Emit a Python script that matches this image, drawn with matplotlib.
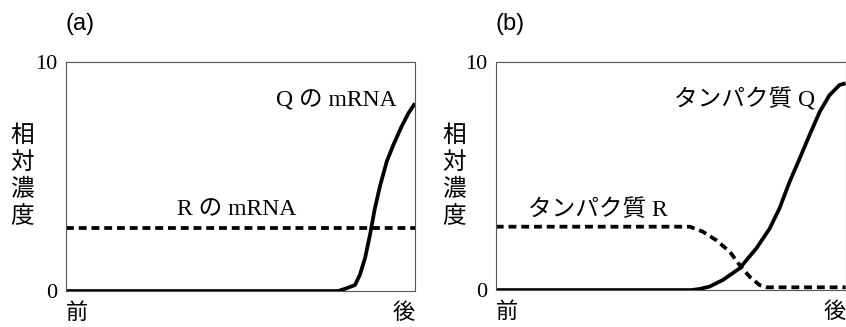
import matplotlib
matplotlib.use('Agg')
import matplotlib.pyplot as plt

# fuentes: serif para letras latinas, CJK para japonés
serif = ['Liberation Serif', 'Noto Sans CJK JP']
sans = ['Liberation Sans', 'DejaVu Sans']
gothic = ['Noto Sans CJK JP', 'DejaVu Sans']

# (a) ARNm
a_q_x = [0.0, 0.78, 0.80, 0.828, 0.842, 0.857, 0.871, 0.885, 0.90, 0.919, 0.938, 0.962, 0.981, 1.0]
a_q_y = [0.0, 0.0, 0.1, 0.26, 0.7, 1.44, 2.45, 3.6, 4.6, 5.65, 6.38, 7.2, 7.76, 8.2]
a_r_x = [0.0, 1.0]
a_r_y = [2.75, 2.75]

# (b) proteína
b_q_x = [0.0, 0.56, 0.583, 0.611, 0.649, 0.697, 0.745, 0.783, 0.811, 0.84, 0.869,
         0.897, 0.926, 0.954, 0.983, 1.0]
b_q_y = [0.0, 0.0, 0.05, 0.15, 0.44, 0.95, 1.83, 2.7, 3.58, 4.75, 5.78,
         6.8, 7.82, 8.55, 9.0, 9.07]
b_r_x = [0.0, 0.555, 0.592, 0.63, 0.669, 0.697, 0.726, 0.754, 0.775, 0.80, 1.0]
b_r_y = [2.78, 2.78, 2.56, 2.19, 1.68, 1.1, 0.58, 0.22, 0.12, 0.12, 0.12]

yticks = [0, 10]
ylabel = '相\n対\n濃\n度'
xlabels = ['前', '後']

fig = plt.figure(figsize=(8.46, 3.27), dpi=100)
ax1 = fig.add_axes([0.078, 0.110, 0.4125, 0.700])
ax2 = fig.add_axes([0.586, 0.113, 0.4135, 0.697])

paneles = [
    (ax1, '(a)', a_q_x, a_q_y, a_r_x, a_r_y,
     'Q の mRNA', (0.774, 8.3), 'R の mRNA', (0.49, 3.55), 0.026),
    (ax2, '(b)', b_q_x, b_q_y, b_r_x, b_r_y,
     'タンパク質 Q', (0.712, 8.35), 'タンパク質 R', (0.291, 3.5), 0.537),
]

for ax, tag, qx, qy, rx, ry, qlab, qpos, rlab, rpos, ylx in paneles:
    ax.plot(qx, qy, color='black', lw=2.7, solid_capstyle='butt', solid_joinstyle='round')
    ax.plot(rx, ry, color='black', lw=2.7, dashes=(2.1, 1.3))
    ax.set_xlim(0, 1)
    ax.set_ylim(0, 10)
    ax.set_yticks(yticks)
    ax.set_yticklabels([str(t) for t in yticks], family=serif, fontsize=16)
    ax.set_xticks([])
    ax.tick_params(axis='y', length=0, pad=6)
    for s in ax.spines.values():
        s.set_linewidth(0.8)
        s.set_color('#555555')
    ax.text(qpos[0], qpos[1], qlab, family=serif, fontsize=17, ha='center', va='center')
    ax.text(rpos[0], rpos[1], rlab, family=serif, fontsize=17, ha='center', va='center')
    ax.text(0.0, -0.095, xlabels[0], family=gothic, fontsize=16, ha='left', va='center',
            transform=ax.transAxes)
    ax.text(1.0, -0.095, xlabels[1], family=gothic, fontsize=16, ha='right', va='center',
            transform=ax.transAxes)
    ax.text(0.0, 1.166, tag, family=sans, fontsize=17, ha='left', va='center',
            transform=ax.transAxes)
    # etiqueta vertical del eje y
    fig.text(ylx, 0.462, ylabel, family=gothic, fontsize=17, ha='center', va='center',
             linespacing=1.24)

fig.savefig('out.png', dpi=100)
